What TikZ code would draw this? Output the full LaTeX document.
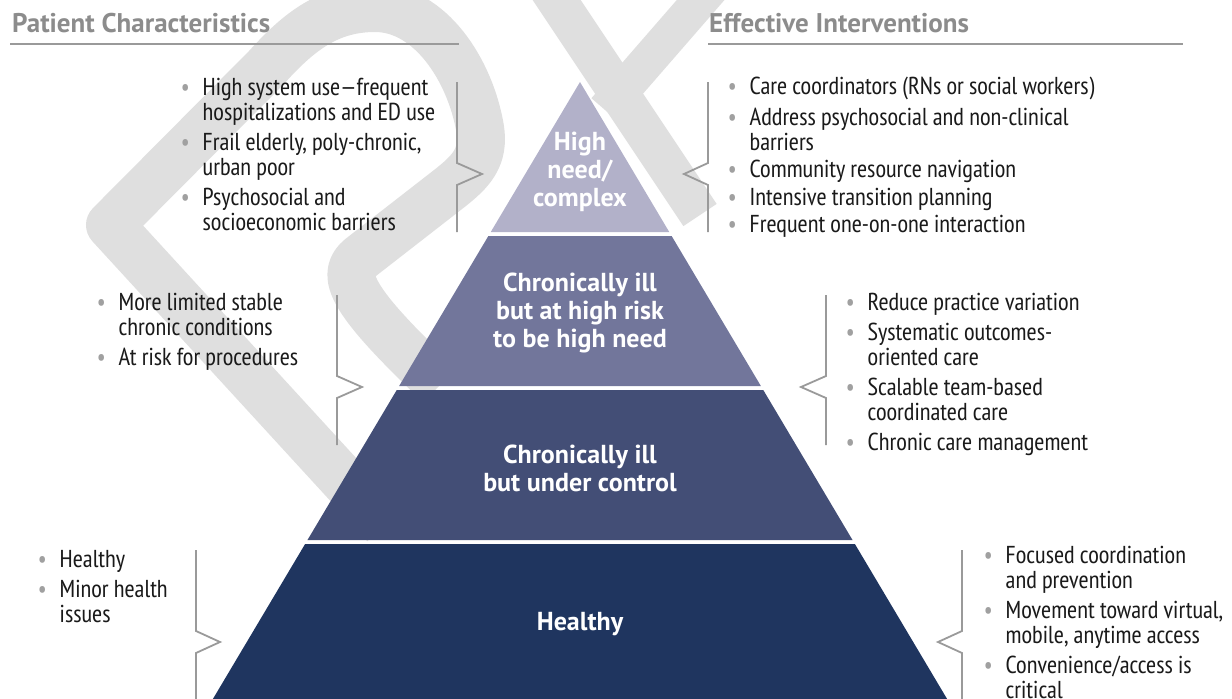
\documentclass[tikz,border=0pt]{standalone}
\usepackage{fontspec}
\setmainfont{PT Sans Narrow}
\newfontfamily\widesans{PT Sans}
\usetikzlibrary{positioning}

\definecolor{tierA}{HTML}{B2B1C9}
\definecolor{tierB}{HTML}{72769B}
\definecolor{tierC}{HTML}{434E76}
\definecolor{tierD}{HTML}{1F355F}
\definecolor{headgray}{HTML}{8C8C8C}
\definecolor{rulegray}{HTML}{9A9A9A}
\definecolor{dotgray}{HTML}{A0A0A0}
\definecolor{wmgray}{HTML}{DFDFDF}
\definecolor{ink}{HTML}{1A1A1A}

\newcommand\dotb{\makebox[0pt]{\color{dotgray}\textbullet}}
\newenvironment{plist}{\begin{tabular}[t]{@{}l@{\hspace{17.5pt}}l@{}}}{\end{tabular}}

\begin{document}
\begin{tikzpicture}[x=1pt, y=-1pt,
    heading/.style = {anchor=base west, inner sep=0pt, text=headgray,
        font=\widesans\fontsize{27}{30}\selectfont\bfseries},
   headrule/.style = {draw=rulegray, line width=2pt},
   itemlist/.style = {anchor=base west, inner sep=0pt, text=ink,
        font=\fontsize{24.5}{25}\selectfont},
       tier/.style = {align=center, text=white, inner sep=0pt,
        font=\widesans\fontsize{26}{28}\selectfont\bfseries},
      brace/.style = {draw=rulegray, line width=1.8pt},
  watermark/.style = {draw=wmgray, line width=48pt, line join=round}
                    ]
\clip (0,0) rectangle (1232,699);
% the faint draft letters behind everything
\draw[watermark] (385,525) -- (110,225) -- (266,68)
    .. controls (300,30) and (330,8) .. (375,8)
    .. controls (430,8) and (470,70) .. (480,128)
    .. controls (485,158) and (470,172) .. (450,188) -- (360,258)
    .. controls (340,275) and (350,300) .. (440,385);
\draw[watermark, line width=40pt] (540,-25) -- (700,215);
\draw[watermark, line width=36pt] (605,110) -- (718,-20);
% the headings
\node[heading] (pc) at (12,32) {Patient Characteristics};
\node[heading] (ei) at (709,32) {Effective Interventions};
\draw[headrule] (10,44) coordinate (pcl) -- (459,44) coordinate (pcr);
\draw[headrule] (708,44) coordinate (eil) -- (1183,44) coordinate (eir);
% the pyramid, one tier after the other
\foreach \ya/\yb/\col in {82/232/tierA, 236/386/tierB, 390/540/tierC, 544/710/tierD}
    \fill[\col] ({580-0.595*(\ya-82)},\ya) -- ({580+0.595*(\ya-82)},\ya)
             -- ({580+0.595*(\yb-82)},\yb) -- ({580-0.595*(\yb-82)},\yb) -- cycle;
\node[tier] (t1) at (580,172) {High\\need/\\complex};
\node[tier] (t2) at (580,313) {Chronically ill\\but at high risk\\to be high need};
\node[tier] (t3) at (580,468) {Chronically ill\\but under control};
\node[tier] (t4) at (580,624) {Healthy};
% the braces: left ones point right, right ones point left
\foreach \x/\ya/\yb/\d in {457/82/232/25, 337/295/445/25, 196/550/720/24,
                           708/82/232/-24, 826/295/445/-25, 962/550/720/-24}
    \draw[brace] (\x,\ya) -- (\x,\ya+81) -- (\x+\d,\ya+92) -- (\x,\ya+103) -- (\x,\yb);
% patient characteristics
\node[itemlist] (pc1) at (185,95) {\begin{plist}
    \dotb & High system use---frequent\\
          & hospitalizations and ED use\\[5pt]
    \dotb & Frail elderly, poly-chronic,\\
          & urban poor\\[5pt]
    \dotb & Psychosocial and\\
          & socioeconomic barriers
    \end{plist}};
\node[itemlist] (pc2) at (101,310) {\begin{plist}
    \dotb & More limited stable\\
          & chronic conditions\\[5pt]
    \dotb & At risk for procedures
    \end{plist}};
\node[itemlist] (pc4) at (42,567) {\begin{plist}
    \dotb & Healthy\\[5pt]
    \dotb & Minor health\\
          & issues
    \end{plist}};
% effective interventions
\node[itemlist] (ei1) at (732,94) {\begin{plist}
    \dotb & Care coordinators (RNs or social workers)\\[6pt]
    \dotb & Address psychosocial and non-clinical\\
          & barriers\\[2pt]
    \dotb & Community resource navigation\\[3pt]
    \dotb & Intensive transition planning\\[2pt]
    \dotb & Frequent one-on-one interaction
    \end{plist}};
\node[itemlist] (ei2) at (850,310) {\begin{plist}
    \dotb & Reduce practice variation\\[5pt]
    \dotb & Systematic outcomes-\\
          & oriented care\\[5pt]
    \dotb & Scalable team-based\\
          & coordinated care\\[5pt]
    \dotb & Chronic care management
    \end{plist}};
\node[itemlist] (ei4) at (988,563) {\begin{plist}
    \dotb & Focused coordination\\
          & and prevention\\[5pt]
    \dotb & Movement toward virtual,\\
          & mobile, anytime access\\[5pt]
    \dotb & Convenience/access is\\
          & critical
    \end{plist}};
\end{tikzpicture}
\end{document}
